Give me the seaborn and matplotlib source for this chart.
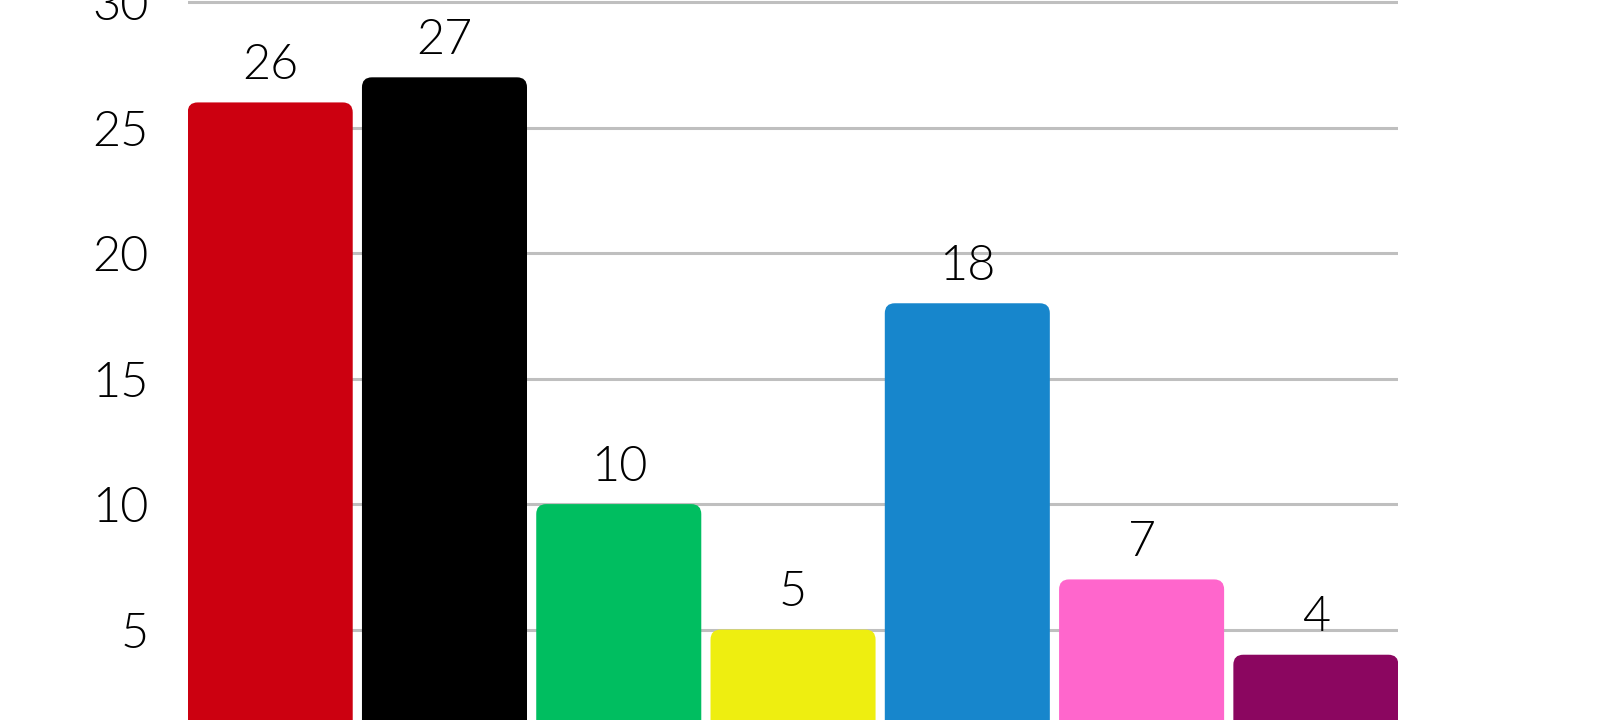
import matplotlib
matplotlib.use("Agg")
import matplotlib.pyplot as plt
from matplotlib.patches import FancyBboxPatch
import seaborn as sns
import pandas as pd

parties = ["SPD", "CDU/CSU", "Grüne", "FDP", "AfD", "Linke", "BSW"]
values = [26, 27, 10, 5, 18, 7, 4]
colors = ["#CC0010", "#000000", "#00BE60", "#EEEE10", "#1786CC", "#FF66CC", "#8B0660"]

df = pd.DataFrame({"party": parties, "value": values})

sns.set_theme(style="white")
plt.rcParams["font.family"] = ["Lato", "DejaVu Sans"]
plt.rcParams["font.weight"] = 300

fig = plt.figure(figsize=(16, 7.2), dpi=100)
ax = fig.add_axes([0.1173, 0.0, 0.7567, 1.0])

sns.barplot(data=df, x="party", y="value", hue="party", palette=colors,
            saturation=1, legend=False, width=0.947, ax=ax, zorder=3)

# swap the square bars for rounded ones
for p in list(ax.patches):
    x, y = p.get_x(), p.get_y()
    w, h = p.get_width(), p.get_height()
    rb = FancyBboxPatch((x, y), w, h,
                        boxstyle="round,pad=0,rounding_size=0.057",
                        mutation_aspect=7.0,
                        facecolor=p.get_facecolor(), edgecolor="none", zorder=3)
    p.set_visible(False)
    ax.add_patch(rb)

for i, v in enumerate(values):
    ax.annotate(str(v), (i, v), xytext=(0, 10.5), textcoords="offset points",
                ha="center", va="bottom", fontsize=35, color="black",
                fontweight=300, zorder=5)

ax.set_xlim(-0.4735, 6.4735)
ax.set_ylim(1.4, 30.08)
ax.set_yticks([5, 10, 15, 20, 25, 30])
ax.yaxis.grid(True, color="#BFBFBF", linewidth=2.2)
ax.set_axisbelow(True)
ax.tick_params(axis="y", labelsize=35, pad=28, length=0, colors="black")
ax.set_xticks([])
ax.set_xlabel("")
ax.set_ylabel("")
sns.despine(ax=ax, left=True, bottom=True)

fig.savefig("out.png", dpi=100)
